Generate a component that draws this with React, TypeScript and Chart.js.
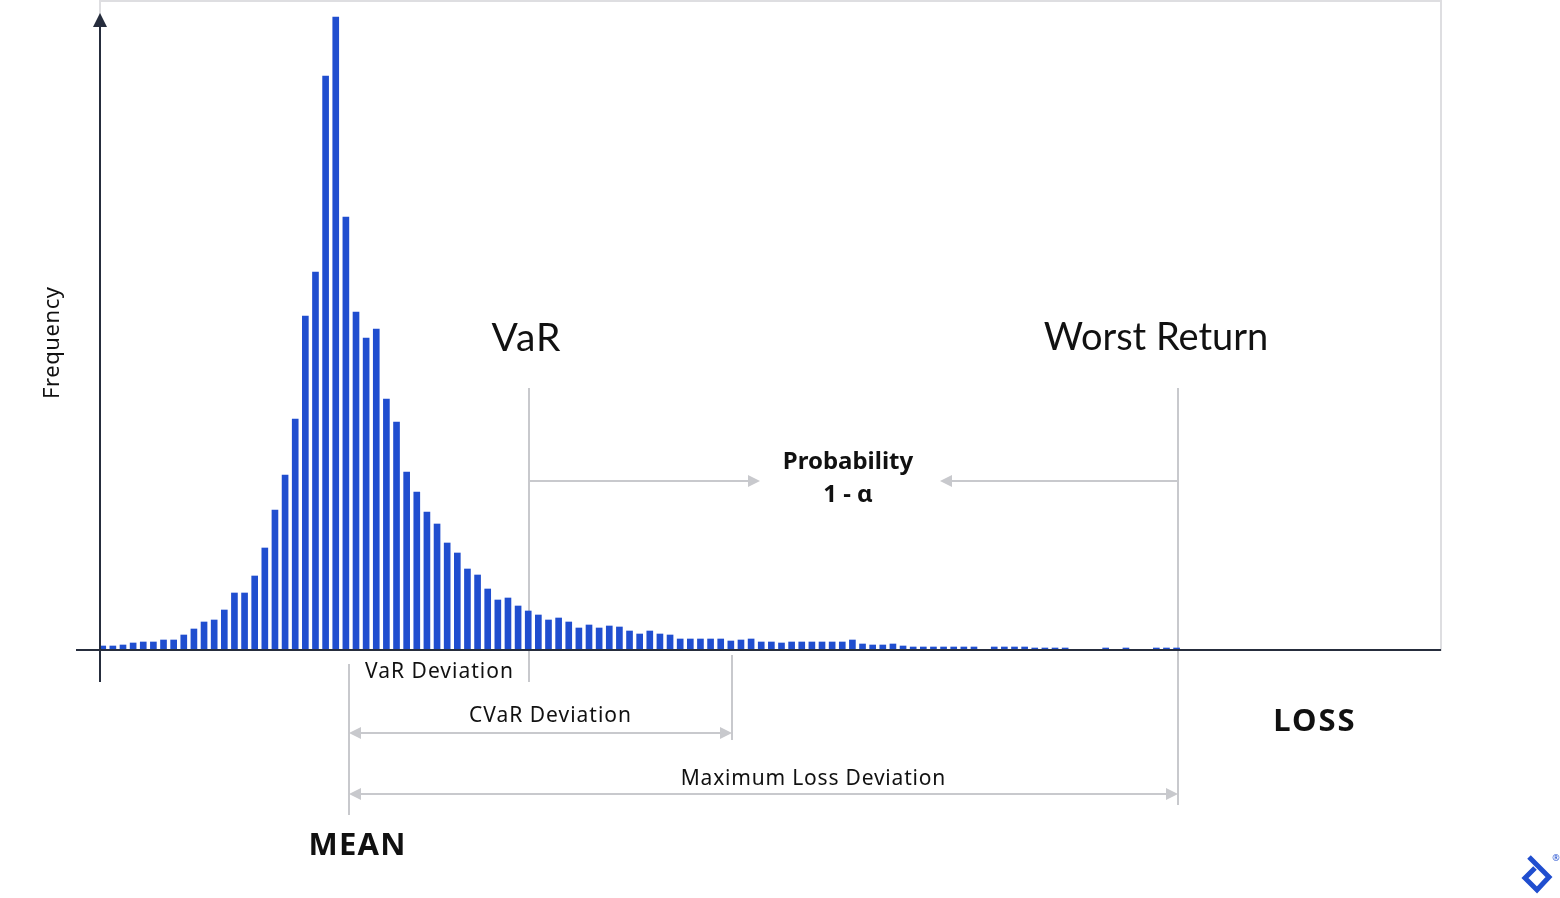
import React, { useEffect, useRef } from "react";
import { Chart, registerables } from "chart.js";
Chart.register(...registerables);

// Histogram of losses: frequency per loss bin (bin index 0..106)
const frequencies: number[] = [
  4, 4, 5, 7, 8, 8, 10, 10, 15, 21, 28, 30, 40, 57, 57, 74, 102, 140, 175, 231,
  334, 378, 574, 633, 433, 338, 312, 321, 251, 228, 178, 158, 138, 126, 107, 97, 81, 75, 61, 50,
  52, 44, 39, 35, 30, 32, 28, 22, 25, 22, 24, 23, 19, 16, 19, 16, 15, 11, 11, 11,
  11, 11, 9, 10, 11, 8, 8, 7, 8, 8, 8, 8, 8, 8, 10, 6, 5, 5, 6, 4,
  3, 3, 3, 3, 3, 3, 3, 0, 3, 3, 3, 3, 2, 2, 2, 2, 0, 0, 0, 2,
  0, 2, 0, 0, 2, 2, 2,
];

// Marker positions on the loss axis (in bin units)
const meanBin = 24.3;
const varBin = 42.1;
const cvarBin = 62.1;
const worstBin = 106.15;

const titles = {
  yAxis: "Frequency",
  var: "VaR",
  worst: "Worst Return",
  prob1: "Probability",
  prob2: "1 - α",
  varDev: "VaR Deviation",
  cvarDev: "CVaR Deviation",
  maxDev: "Maximum Loss Deviation",
  loss: "LOSS",
  mean: "MEAN",
};

const BLUE = "#204ecf";
const DARK = "#262d3d";
const GRAY = "#c8c9cd";
const BORDER = "#dedee1";
const FONT = "'Noto Sans', 'Open Sans', sans-serif";
const BIG_FONT = "Lato, 'Noto Sans', sans-serif";

function arrowHead(ctx: CanvasRenderingContext2D, x: number, y: number, dir: 1 | -1) {
  ctx.beginPath();
  ctx.moveTo(x, y);
  ctx.lineTo(x - dir * 12, y - 6);
  ctx.lineTo(x - dir * 12, y + 6);
  ctx.closePath();
  ctx.fill();
}

function vline(ctx: CanvasRenderingContext2D, x: number, y1: number, y2: number) {
  ctx.beginPath();
  ctx.moveTo(x, y1);
  ctx.lineTo(x, y2);
  ctx.stroke();
}

function hline(ctx: CanvasRenderingContext2D, x1: number, x2: number, y: number) {
  ctx.beginPath();
  ctx.moveTo(x1, y);
  ctx.lineTo(x2, y);
  ctx.stroke();
}

function spacedText(ctx: CanvasRenderingContext2D, text: string, x: number, y: number, spacing: number) {
  (ctx as any).letterSpacing = `${spacing}px`;
  ctx.fillText(text, x + spacing / 2, y);
  (ctx as any).letterSpacing = "0px";
}

const decorPlugin = {
  id: "decor",
  beforeDatasetsDraw(chart: any) {
    const ctx: CanvasRenderingContext2D = chart.ctx;
    const { left, top, right, bottom } = chart.chartArea;
    const xs = chart.scales.x;
    const xMean = Math.round(xs.getPixelForValue(meanBin));
    const xVar = Math.round(xs.getPixelForValue(varBin));
    const xCvar = Math.round(xs.getPixelForValue(cvarBin));
    const xWorst = Math.round(xs.getPixelForValue(worstBin));
    ctx.save();
    // plot frame
    ctx.strokeStyle = BORDER;
    ctx.lineWidth = 2;
    ctx.strokeRect(left, top, right - left, bottom - top);

    ctx.strokeStyle = GRAY;
    ctx.fillStyle = GRAY;
    ctx.lineWidth = 2;
    // VaR & worst return markers
    vline(ctx, xVar, 388, 682);
    vline(ctx, xWorst, 388, 805);
    // probability arrows
    hline(ctx, xVar, 750, 481);
    arrowHead(ctx, 760, 481, 1);
    hline(ctx, xWorst, 950, 481);
    arrowHead(ctx, 940, 481, -1);
    // mean line
    vline(ctx, xMean, 664, 815);
    // CVaR
    vline(ctx, xCvar, 655, 740);
    hline(ctx, xMean + 10, xCvar - 10, 733);
    arrowHead(ctx, xMean, 733, -1);
    arrowHead(ctx, xCvar, 733, 1);
    // max loss
    hline(ctx, xMean + 10, xWorst - 10, 794);
    arrowHead(ctx, xMean, 794, -1);
    arrowHead(ctx, xWorst, 794, 1);
    ctx.restore();
  },
  afterDatasetsDraw(chart: any) {
    const ctx: CanvasRenderingContext2D = chart.ctx;
    const { left, right, bottom } = chart.chartArea;
    ctx.save();
    // axes
    ctx.strokeStyle = DARK;
    ctx.fillStyle = DARK;
    ctx.lineWidth = 2;
    hline(ctx, 76, right, bottom);
    vline(ctx, left, 24, 682);
    ctx.beginPath();
    ctx.moveTo(left, 13);
    ctx.lineTo(left - 7, 27);
    ctx.lineTo(left + 7, 27);
    ctx.closePath();
    ctx.fill();

    // texts
    ctx.fillStyle = "#111111";
    ctx.textAlign = "center";
    ctx.textBaseline = "middle";
    ctx.font = `39px ${BIG_FONT}`;
    spacedText(ctx, titles.var, 526, 338, 1);
    ctx.font = `38px ${BIG_FONT}`;
    ctx.fillText(titles.worst, 1156, 338);
    ctx.font = `bold 24px ${FONT}`;
    ctx.fillText(titles.prob1, 848, 462);
    ctx.fillText(titles.prob2, 848, 495);
    ctx.font = `21px ${FONT}`;
    spacedText(ctx, titles.varDev, 439, 672, 1);
    spacedText(ctx, titles.cvarDev, 550, 716, 1);
    spacedText(ctx, titles.maxDev, 813, 779, 0.8);
    ctx.font = `bold 31px ${FONT}`;
    spacedText(ctx, titles.loss, 1314, 722, 2);
    spacedText(ctx, titles.mean, 357, 846, 1.2);

    ctx.save();
    ctx.translate(53, 343);
    ctx.rotate(-Math.PI / 2);
    ctx.font = `22px ${FONT}`;
    spacedText(ctx, titles.yAxis, 0, 0, 0.6);
    ctx.restore();

    // logo
    ctx.strokeStyle = BLUE;
    ctx.lineWidth = 5;
    ctx.lineJoin = "miter";
    ctx.beginPath();
    ctx.moveTo(1529, 857);
    ctx.lineTo(1549, 877);
    ctx.lineTo(1537, 890);
    ctx.lineTo(1525, 878);
    ctx.lineTo(1535, 868);
    ctx.stroke();
    ctx.fillStyle = BLUE;
    ctx.font = `9px ${FONT}`;
    ctx.fillText("®", 1556, 858);
    ctx.restore();
  },
};

export default function App() {
  const ref = useRef<HTMLCanvasElement | null>(null);
  useEffect(() => {
    document.body.style.margin = "0";
    const canvas = ref.current;
    if (!canvas) return;
    const chart = new Chart(canvas, {
      type: "bar",
      data: {
        datasets: [
          {
            data: frequencies.map((v, i) => ({ x: i, y: v })),
            backgroundColor: BLUE,
            borderWidth: 0,
            barThickness: 6,
          },
        ],
      },
      options: {
        responsive: false,
        animation: false,
        devicePixelRatio: 1,
        layout: { padding: { left: 100, right: 119, top: 1, bottom: 248 } },
        plugins: { legend: { display: false }, tooltip: { enabled: false } },
        scales: {
          x: { type: "linear", min: -0.27, max: 132.1, offset: false, display: false },
          y: { min: 0, max: 649, display: false },
        },
      },
      plugins: [decorPlugin],
    } as any);
    return () => chart.destroy();
  }, []);
  return (
    <div style={{ position: "absolute", left: 0, top: 0, width: 1560, height: 898, background: "#fff" }}>
      <canvas ref={ref} width={1560} height={898} style={{ display: "block" }} />
    </div>
  );
}
